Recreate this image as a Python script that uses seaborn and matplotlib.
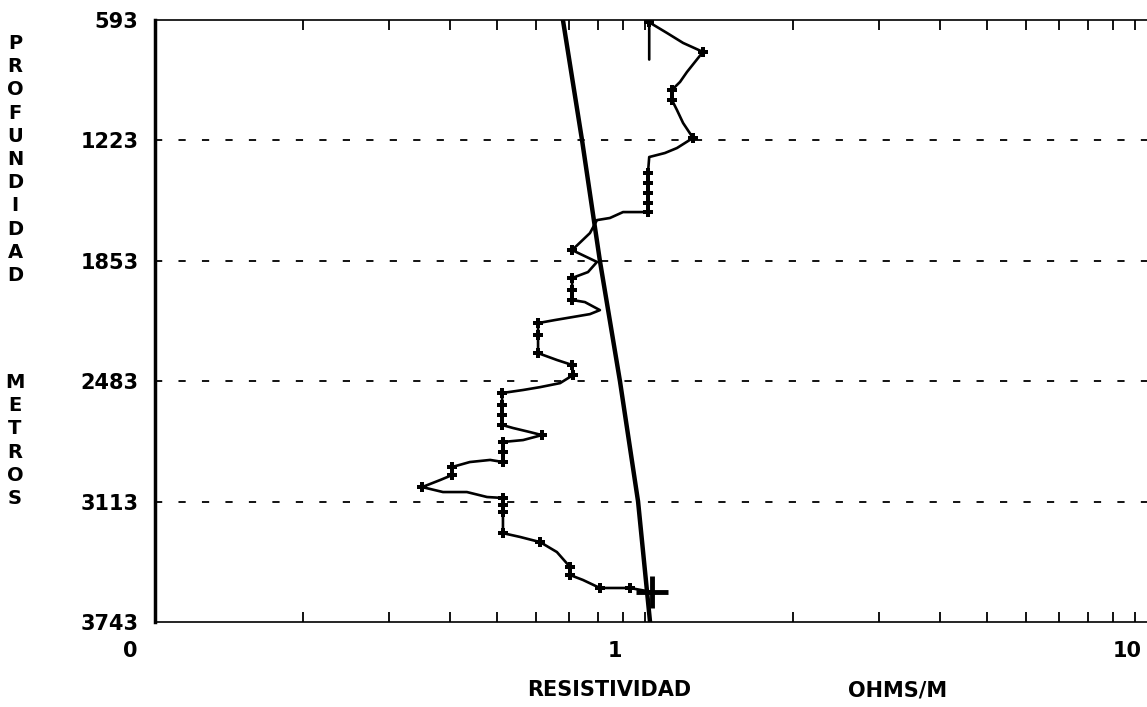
import numpy as np
import seaborn as sns
import matplotlib.pyplot as plt
import matplotlib.transforms as mtransforms
from matplotlib.ticker import NullFormatter

# measured resistivity log (ohm/m) vs depth (m)
resistivity = [1.02, 1.02, 1.109, 1.196, 1.313, 1.218, 1.179, 1.135, 1.135, 1.162,
               1.196, 1.253, 1.162, 1.098, 1.02, 1.014, 1.014, 1.014, 1.014, 1.014,
               0.902, 0.848, 0.798, 0.772, 0.710, 0.798, 0.765, 0.710, 0.710, 0.710,
               0.754, 0.809, 0.772, 0.713, 0.655, 0.605, 0.605, 0.605, 0.661, 0.710,
               0.713, 0.671, 0.611, 0.564, 0.511, 0.511, 0.511, 0.511, 0.538, 0.582,
               0.616, 0.564, 0.513, 0.513, 0.513, 0.483, 0.439, 0.404, 0.404, 0.382,
               0.351, 0.387, 0.433, 0.476, 0.513, 0.513, 0.513, 0.513, 0.556, 0.611,
               0.661, 0.703, 0.703, 0.747, 0.809, 0.932, 1.033]
depth = [800, 605, 661, 713, 760, 865, 917, 959, 1012, 1064,
         1132, 1210, 1263, 1289, 1310, 1394, 1446, 1498, 1551, 1598,
         1598, 1629, 1640, 1708, 1797, 1859, 1912, 1943, 2006, 2058,
         2069, 2111, 2132, 2147, 2163, 2179, 2241, 2336, 2372, 2398,
         2451, 2493, 2514, 2529, 2545, 2608, 2660, 2712, 2728, 2749,
         2765, 2791, 2801, 2854, 2906, 2895, 2906, 2932, 2974, 3000,
         3037, 3063, 3063, 3089, 3094, 3131, 3168, 3278, 3298, 3325,
         3377, 3455, 3497, 3523, 3565, 3565, 3586]
marked = [1, 4, 7, 8, 11, 15, 16, 17, 18, 19, 24, 27, 28, 29, 35, 36, 37, 39, 40,
          44, 45, 46, 47, 50, 52, 53, 54, 57, 58, 60, 64, 65, 66, 67, 69, 71, 72,
          74, 75]

# trend line
trend_res = [0.680, 0.744, 0.809, 0.889, 0.968, 1.024]
trend_depth = [593, 1223, 1853, 2483, 3113, 3743]

depth_ticks = [593, 1223, 1853, 2483, 3113, 3743]
res_ticks = [0.1, 1, 10]
res_labels = ["0", "1", "10"]

sns.set_style("white")
plt.rcParams['font.family'] = ['DejaVu Sans']
plt.rcParams['text.color'] = 'black'

W, H = 1147, 707
fig = plt.figure(figsize=(W / 100, H / 100), dpi=100)
ax = fig.add_axes([155 / W, (H - 622) / H, (W - 155) / W, (622 - 20) / H])

sns.lineplot(x=trend_res, y=trend_depth, ax=ax, sort=False, estimator=None,
             color='black', linewidth=3.2)
sns.lineplot(x=resistivity, y=depth, ax=ax, sort=False, estimator=None,
             color='black', linewidth=1.9, marker='P', markersize=7.5,
             markevery=marked, markeredgewidth=0)
sns.scatterplot(x=resistivity[-1:], y=depth[-1:], ax=ax, marker='+', s=500,
                color='black', linewidth=3.5)

ax.set_xscale('log')
ax.set_xlim(0.1, 10.58)
ax.set_ylim(3743, 593)

# dotted horizontal grid
for d in depth_ticks[1:-1]:
    ax.axhline(d, color='black', linewidth=1.3, linestyle=(0, (4, 9)), zorder=0)

ax.set_yticks(depth_ticks)
ax.set_yticklabels([str(d) for d in depth_ticks], fontsize=15, fontweight='bold',
                   color='black')
ax.set_xticks(res_ticks)
ax.set_xticklabels(res_labels, fontsize=15, fontweight='bold', color='black')
ax.xaxis.set_minor_formatter(NullFormatter())

ax.tick_params(axis='y', length=0, pad=12)
ax.tick_params(axis='x', which='both', top=True, bottom=True, direction='in',
               length=7, width=1.3, color='black', pad=14)

for lbl, dx in zip(ax.get_xticklabels(), [-25, -30, -8]):
    lbl.set_transform(lbl.get_transform() +
                      mtransforms.ScaledTranslation(dx / 100, 0, fig.dpi_scale_trans))

ax.spines['right'].set_visible(False)
ax.spines['left'].set_linewidth(2.5)
ax.spines['left'].set_color('black')
for s in ['top', 'bottom']:
    ax.spines[s].set_linestyle((0, (1, 1)))
    ax.spines[s].set_linewidth(1.2)
    ax.spines[s].set_color('black')

ax.set_xlabel("")
ax.set_ylabel("")

# stacked y-axis titles
fig.text(15 / W, 1 - 34 / H, "\n".join("PROFUNDIDAD"), ha='center', va='top',
         fontsize=14, fontweight='bold', linespacing=1.28)
fig.text(15 / W, 1 - 373 / H, "\n".join("METROS"), ha='center', va='top',
         fontsize=14, fontweight='bold', linespacing=1.28)

fig.text(527 / W, 1 - 690 / H, "RESISTIVIDAD", ha='left', va='center',
         fontsize=15, fontweight='bold')
fig.text(848 / W, 1 - 690 / H, "OHMS/M", ha='left', va='center',
         fontsize=15, fontweight='bold')

plt.savefig('out.png', dpi=100)
